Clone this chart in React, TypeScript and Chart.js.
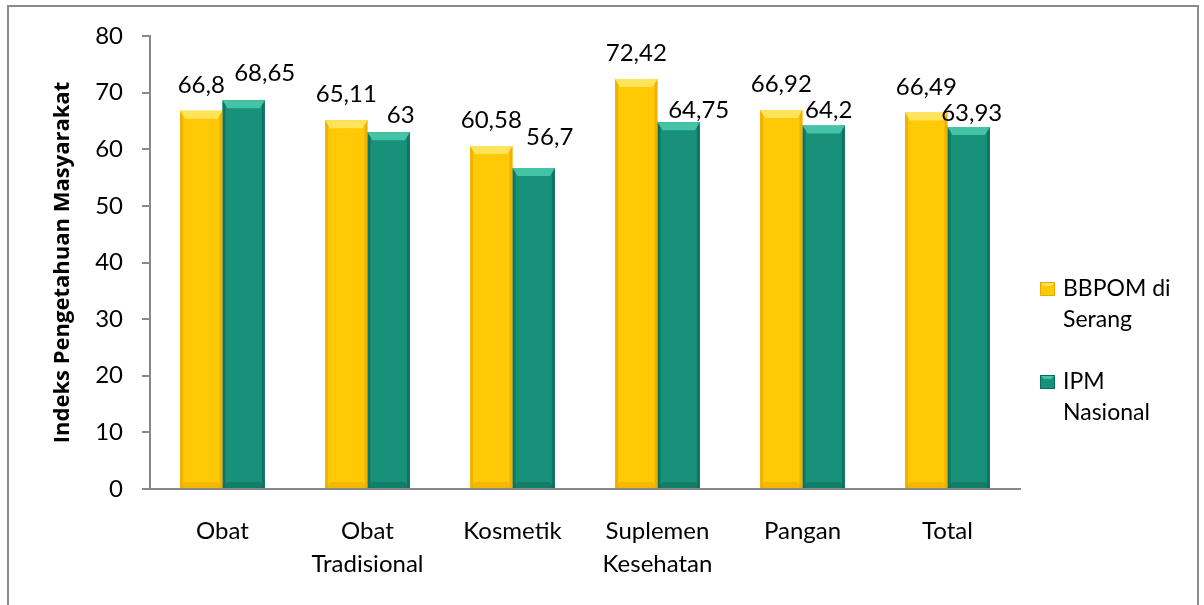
import React, { useEffect, useRef } from 'react';
import { Chart, registerables } from 'chart.js';

Chart.register(...registerables);

const categories: string[][] = [
  ['Obat'],
  ['Obat', 'Tradisional'],
  ['Kosmetik'],
  ['Suplemen', 'Kesehatan'],
  ['Pangan'],
  ['Total'],
];
const bbpomValues = [66.8, 65.11, 60.58, 72.42, 66.92, 66.49];
const ipmValues = [68.65, 63, 56.7, 64.75, 64.2, 63.93];
const seriesNames: string[][] = [
  ['BBPOM di', 'Serang'],
  ['IPM', 'Nasional'],
];
const yAxisTitle = 'Indeks Pengetahuan Masyarakat';
const yMin = 0;
const yMax = 80;
const yStep = 10;

// value-label placement (style): horizontal shift and lift above bar top, per series
const labelShiftX: number[][] = [
  [0, 0, 0, 0, 0, 0],
  [21, 12, 16, 20, 5, 3],
];
const labelLift: number[][] = [
  [18, 18, 18, 18, 18, 18],
  [19, 9, 23, 4, 7, 6],
];

const FONT = 'Lato';
const palette = [
  { main: '#FFC905', edge: '#E9A800', light: '#FFE35A' },
  { main: '#17917A', edge: '#0D6A58', light: '#45C3A6' },
];

const fmt = (v: number) => String(v).replace('.', ',');

const bevelPlugin = {
  id: 'bevel',
  afterDatasetsDraw(chart: any) {
    const ctx = chart.ctx;
    chart.data.datasets.forEach((_: any, di: number) => {
      const meta = chart.getDatasetMeta(di);
      const c = palette[di];
      meta.data.forEach((bar: any) => {
        const { x, y, width, base } = bar.getProps(['x', 'y', 'width', 'base'], true);
        const l = x - width / 2;
        const r = x + width / 2;
        const h = base - y;
        ctx.save();
        ctx.fillStyle = c.edge;
        ctx.globalAlpha = 0.7;
        ctx.fillRect(l, y, 3, h);
        ctx.fillRect(r - 3, y, 3, h);
        ctx.globalAlpha = 1;
        ctx.fillStyle = c.light;
        ctx.beginPath();
        ctx.moveTo(l, y);
        ctx.lineTo(r, y);
        ctx.lineTo(r - 5, y + 8);
        ctx.lineTo(l + 5, y + 8);
        ctx.closePath();
        ctx.fill();
        ctx.fillStyle = c.edge;
        ctx.globalAlpha = 0.5;
        ctx.beginPath();
        ctx.moveTo(l, base);
        ctx.lineTo(r, base);
        ctx.lineTo(r - 5, base - 6);
        ctx.lineTo(l + 5, base - 6);
        ctx.closePath();
        ctx.fill();
        ctx.restore();
      });
    });
  },
};

const valueLabelPlugin = {
  id: 'valueLabels',
  afterDatasetsDraw(chart: any) {
    const ctx = chart.ctx;
    ctx.save();
    ctx.font = `24px ${FONT}`;
    ctx.fillStyle = '#000';
    ctx.textAlign = 'center';
    ctx.textBaseline = 'alphabetic';
    chart.data.datasets.forEach((ds: any, di: number) => {
      const meta = chart.getDatasetMeta(di);
      meta.data.forEach((bar: any, i: number) => {
        ctx.fillText(fmt(ds.data[i]), bar.x + labelShiftX[di][i], bar.y - labelLift[di][i]);
      });
    });
    ctx.restore();
  },
};

const legendPlugin = {
  id: 'sideLegend',
  afterDraw(chart: any) {
    const ctx = chart.ctx;
    ctx.save();
    const x0 = chart.chartArea.right + 20;
    const tops = [282, 375];
    seriesNames.forEach((lines, i) => {
      const c = palette[i];
      const top = tops[i];
      ctx.fillStyle = c.main;
      ctx.fillRect(x0, top, 15, 14);
      ctx.fillStyle = c.light;
      ctx.beginPath();
      ctx.moveTo(x0, top);
      ctx.lineTo(x0 + 15, top);
      ctx.lineTo(x0 + 11, top + 4);
      ctx.lineTo(x0 + 4, top + 4);
      ctx.closePath();
      ctx.fill();
      ctx.strokeStyle = c.edge;
      ctx.lineWidth = 1;
      ctx.strokeRect(x0 + 0.5, top + 0.5, 14, 13);
      ctx.fillStyle = '#000';
      ctx.font = `23px ${FONT}`;
      ctx.textAlign = 'left';
      ctx.textBaseline = 'middle';
      lines.forEach((t, j) => {
        ctx.fillText(t, x0 + 23, top + 7 + j * 31);
      });
    });
    ctx.restore();
  },
};

export default function App() {
  const ref = useRef<HTMLCanvasElement | null>(null);
  useEffect(() => {
    if (!ref.current) return;
    const chart = new Chart(ref.current, {
      type: 'bar',
      data: {
        labels: categories,
        datasets: [
          {
            label: seriesNames[0].join(' '),
            data: bbpomValues,
            backgroundColor: palette[0].main,
            barPercentage: 1,
            categoryPercentage: 0.585,
          },
          {
            label: seriesNames[1].join(' '),
            data: ipmValues,
            backgroundColor: palette[1].main,
            barPercentage: 1,
            categoryPercentage: 0.585,
          },
        ],
      },
      options: {
        responsive: false,
        animation: false,
        layout: { padding: { left: 0, top: 36, right: 184, bottom: 0 } },
        plugins: {
          legend: { display: false },
          tooltip: { enabled: false },
        },
        scales: {
          x: {
            grid: { display: false, drawTicks: false },
            border: { display: true, color: '#888888', width: 2 },
            ticks: {
              color: '#000',
              font: { family: FONT, size: 24, lineHeight: 1.36 },
              padding: 26,
              maxRotation: 0,
              autoSkip: false,
            },
            afterFit(scale: any) {
              scale.height = 116;
            },
          },
          y: {
            min: yMin,
            max: yMax,
            grid: { drawOnChartArea: false, drawTicks: true, tickLength: 8, color: '#888888', lineWidth: 2 },
            border: { display: true, color: '#888888', width: 2 },
            ticks: {
              stepSize: yStep,
              color: '#000',
              font: { family: FONT, size: 24 },
              padding: 19,
            },
            title: {
              display: true,
              text: yAxisTitle,
              color: '#000',
              font: { family: 'Open Sans', size: 22, weight: 'bold' },
              padding: { top: 50, bottom: 0 },
            },
            afterFit(scale: any) {
              scale.width = 150;
            },
          },
        },
      },
      plugins: [bevelPlugin, valueLabelPlugin, legendPlugin],
    });
    return () => chart.destroy();
  }, []);

  return (
    <div style={{ position: 'absolute', left: 0, top: 0, width: 1204, height: 605, overflow: 'hidden', background: '#fff' }}>
      <div
        style={{
          position: 'absolute',
          left: 7,
          top: 5,
          width: 1188,
          height: 640,
          border: '2px solid #8a8a8a',
        }}
      />
      <canvas ref={ref} width={1204} height={605} style={{ position: 'absolute', left: 0, top: 0 }} />
    </div>
  );
}
